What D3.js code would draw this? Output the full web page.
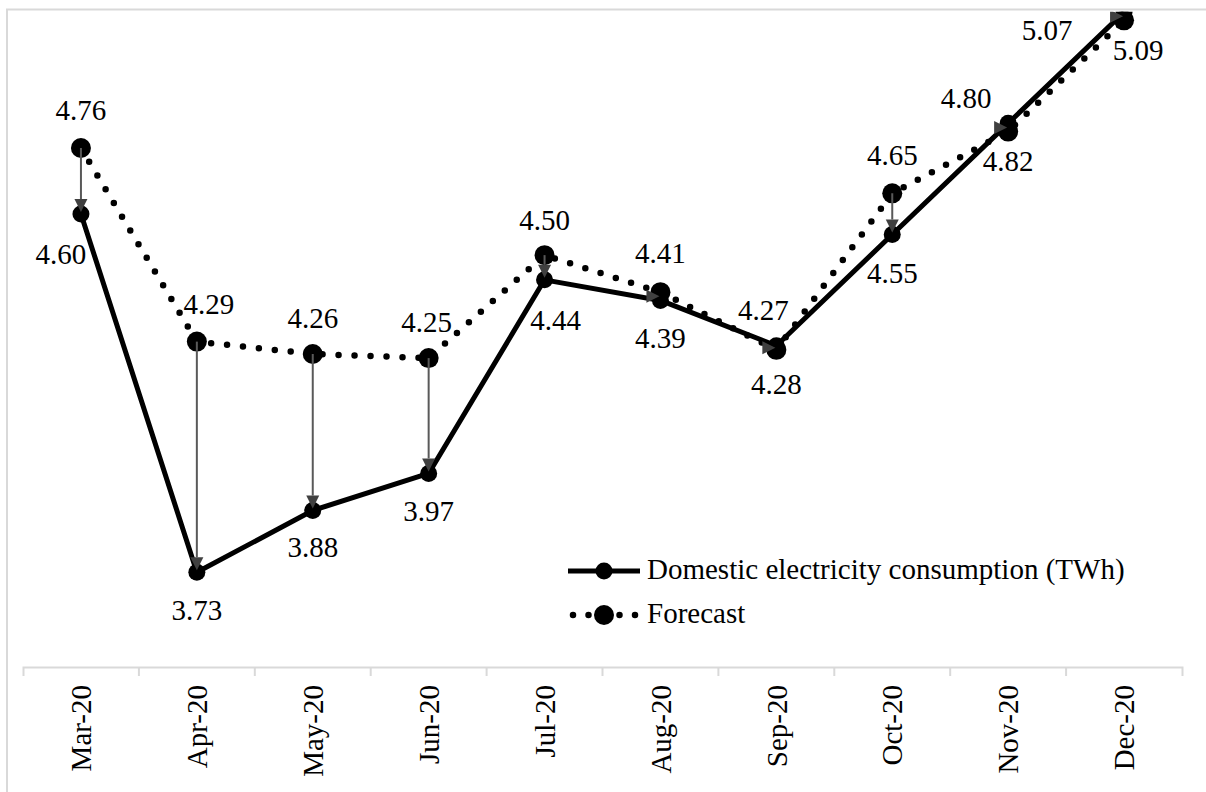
<!DOCTYPE html>
<html>
<head>
<meta charset="utf-8">
<script src="https://cdn.jsdelivr.net/npm/d3@7"></script>
<style>
  html, body { margin: 0; padding: 0; background: #fff; }
  svg { display: block; font-family: "Liberation Serif", "Times New Roman", serif; }
</style>
</head>
<body>
<svg id="chart" width="1206" height="792"></svg>
<script>
// Monthly domestic electricity consumption vs. forecast, 2020
const months = ["Mar-20", "Apr-20", "May-20", "Jun-20", "Jul-20", "Aug-20", "Sep-20", "Oct-20", "Nov-20", "Dec-20"];
const consumption = [4.60, 3.73, 3.88, 3.97, 4.44, 4.39, 4.28, 4.55, 4.82, 5.09];
const forecast = [4.76, 4.29, 4.26, 4.25, 4.50, 4.41, 4.27, 4.65, 4.80, 5.07];
const seriesNames = ["Domestic electricity consumption (TWh)", "Forecast"];

// label nudges (pixels) for labels that were moved off their default spot
const forecastLabelShift = [[0, 0], [12, 0], [0, 2], [-2, 2], [0, 3], [0, -1], [-13, -2], [0, 0], [-42, 4], [-77, 48]];
const consumptionLabelShift = [[-20, 2], [0, 0], [0, -1], [0, 0], [11, 2], [0, 0], [0, 0], [0, 0], [0, 0], [14, 0]];

const svg = d3.select("#chart");
const fontSize = 29;
const grid = "#d9d9d9";

const x = d3.scaleBand().domain(months).range([23, 1182]);
const y = d3.scaleLinear().domain([3.5, 5.1]).range([667, 8]);
const cx = m => x(m) + x.bandwidth() / 2;

// chart frame (only top and left edges fall inside the canvas)
svg.append("path")
  .attr("d", "M7,800V9.5H1210")
  .attr("fill", "none").attr("stroke", grid).attr("stroke-width", 2);

// category axis
const axis = d3.axisBottom(x).tickSize(0).tickSizeOuter(9);
const gx = svg.append("g").attr("transform", "translate(0,667)").call(axis);
gx.select(".domain").attr("stroke", grid).attr("stroke-width", 2);
gx.selectAll(".tick text")
  .attr("font-family", "Liberation Serif")
  .attr("font-size", fontSize)
  .attr("fill", "#000")
  .attr("text-anchor", "end")
  .attr("transform", "translate(0,18) rotate(-90)")
  .attr("x", 0).attr("y", 0).attr("dy", "0.35em");
gx.selectAll(".boundary")
  .data(months.slice(1))
  .enter().append("line")
  .attr("class", "boundary")
  .attr("x1", m => x(m)).attr("x2", m => x(m))
  .attr("y1", 0).attr("y2", 9)
  .attr("stroke", grid).attr("stroke-width", 2);

// plot clip
svg.append("defs").append("clipPath").attr("id", "plotClip")
  .append("rect").attr("x", 8).attr("y", 11.7).attr("width", 1198).attr("height", 660);

const plot = svg.append("g").attr("clip-path", "url(#plotClip)");

const line = d3.line().x(d => cx(d.m)).y(d => y(d.v));
const fData = months.map((m, i) => ({ m, v: forecast[i] }));
const cData = months.map((m, i) => ({ m, v: consumption[i] }));

// forecast: round-dot line with large markers
plot.append("path").datum(fData)
  .attr("d", line)
  .attr("fill", "none").attr("stroke", "#000")
  .attr("stroke-width", 6.5).attr("stroke-linecap", "round")
  .attr("stroke-dasharray", "0,16");
plot.selectAll(".fmark").data(fData).enter().append("circle")
  .attr("cx", d => cx(d.m)).attr("cy", d => y(d.v)).attr("r", 10).attr("fill", "#000");

// actual consumption: solid line with markers
plot.append("path").datum(cData)
  .attr("d", line)
  .attr("fill", "none").attr("stroke", "#000")
  .attr("stroke-width", 5).attr("stroke-linejoin", "round");
plot.selectAll(".cmark").data(cData).enter().append("circle")
  .attr("cx", d => cx(d.m)).attr("cy", d => y(d.v)).attr("r", 8.5).attr("fill", "#000");

// arrows from forecast to actual
const headLen = 13, headHalf = 6.5;
months.forEach((m, i) => {
  const xc = cx(m);
  const yf = y(forecast[i]);
  const ya = y(consumption[i]);
  const gap = Math.abs(ya - yf);
  if (gap > headLen + 4) {
    const dir = ya > yf ? 1 : -1;
    const tip = ya - dir * 2;
    plot.append("line")
      .attr("x1", xc).attr("x2", xc)
      .attr("y1", yf).attr("y2", tip - dir * headLen)
      .attr("stroke", "#595959").attr("stroke-width", 2);
    plot.append("path")
      .attr("d", `M${xc},${tip}L${xc - headHalf},${tip - dir * headLen}L${xc + headHalf},${tip - dir * headLen}Z`)
      .attr("fill", "#404040");
  } else {
    // too short for a shaft: the head alone, lying on its side
    const ym = (ya + yf) / 2;
    plot.append("path")
      .attr("d", `M${xc - 1},${ym}L${xc - 1 - headLen},${ym - headHalf}L${xc - 1 - headLen},${ym + headHalf}Z`)
      .attr("fill", "#404040");
  }
});

// data labels
const labels = svg.append("g")
  .attr("font-size", fontSize).attr("fill", "#000").attr("text-anchor", "middle");
fData.forEach((d, i) => {
  labels.append("text")
    .attr("x", cx(d.m) + forecastLabelShift[i][0])
    .attr("y", y(d.v) - 28 + forecastLabelShift[i][1])
    .text(d.v.toFixed(2));
});
cData.forEach((d, i) => {
  labels.append("text")
    .attr("x", cx(d.m) + consumptionLabelShift[i][0])
    .attr("y", y(d.v) + 48 + consumptionLabelShift[i][1])
    .text(d.v.toFixed(2));
});

// legend
const legend = svg.append("g").attr("font-size", fontSize).attr("fill", "#000");
legend.append("line").attr("x1", 568).attr("x2", 640).attr("y1", 571).attr("y2", 571)
  .attr("stroke", "#000").attr("stroke-width", 5);
legend.append("circle").attr("cx", 604).attr("cy", 571).attr("r", 8.5).attr("fill", "#000");
legend.append("text").attr("x", 647).attr("y", 579).text(seriesNames[0]);

legend.append("line").attr("x1", 573).attr("x2", 640).attr("y1", 615).attr("y2", 615)
  .attr("stroke", "#000").attr("stroke-width", 6.5).attr("stroke-linecap", "round")
  .attr("stroke-dasharray", "0,15.5");
legend.append("circle").attr("cx", 604).attr("cy", 615).attr("r", 10).attr("fill", "#000");
legend.append("text").attr("x", 647).attr("y", 623).text(seriesNames[1]);
</script>
</body>
</html>
